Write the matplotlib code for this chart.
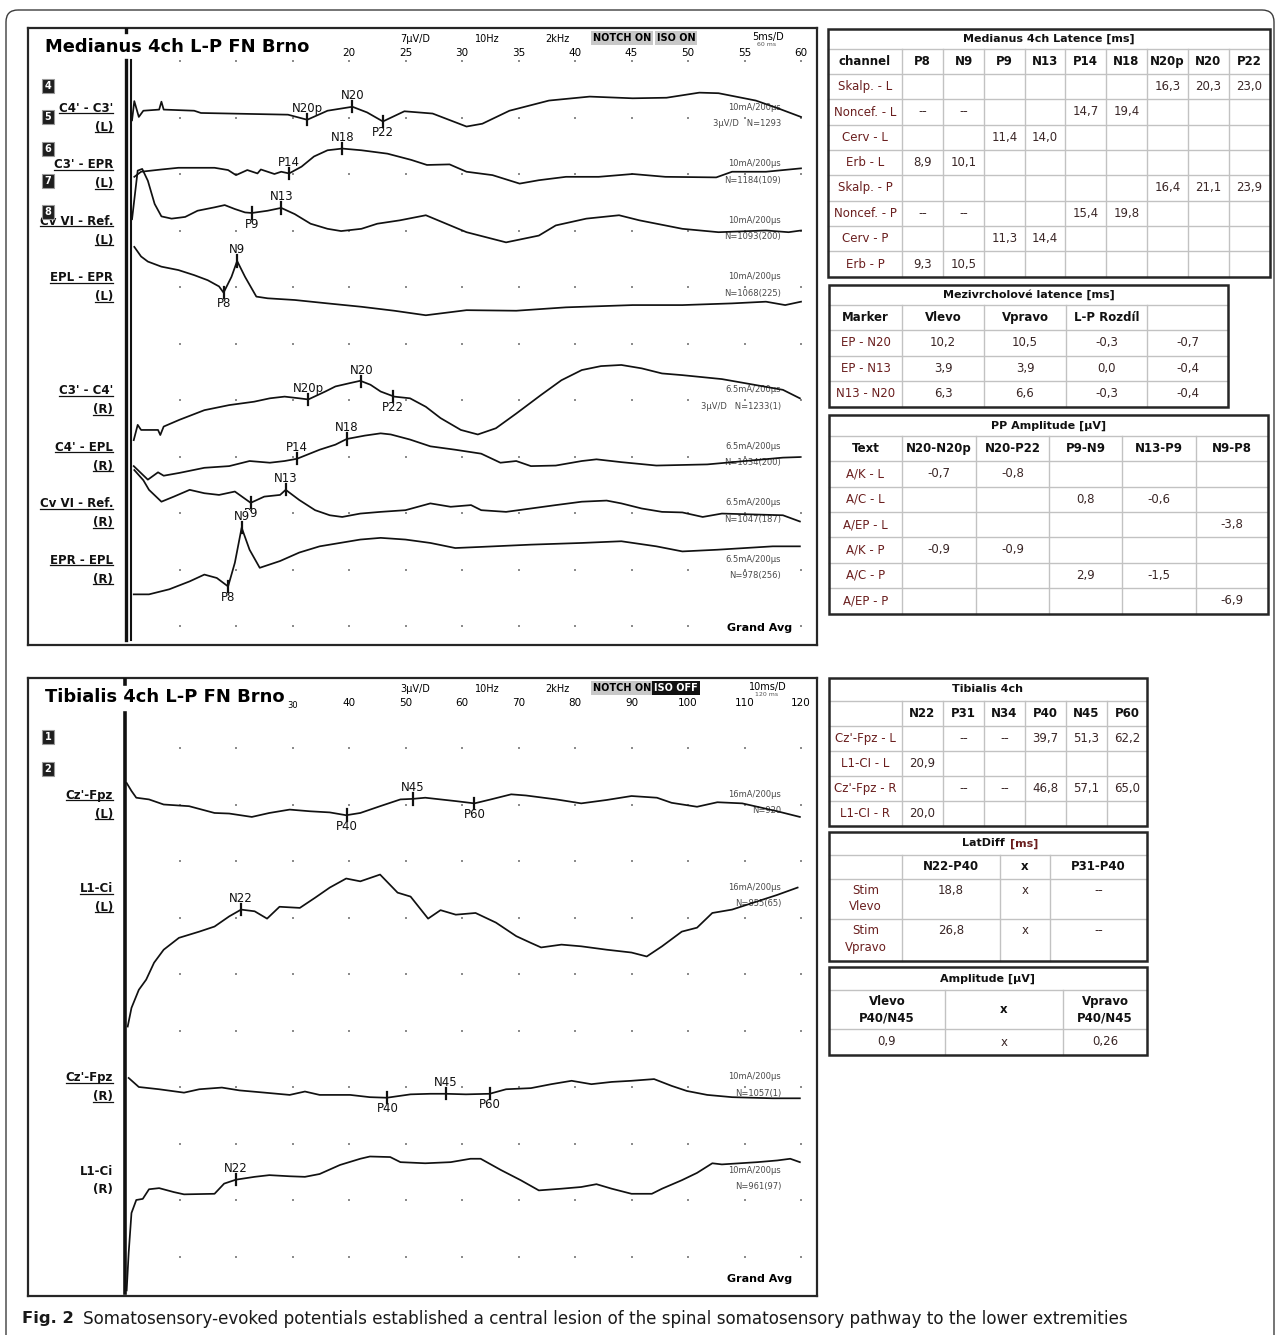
import numpy as np
import matplotlib.pyplot as plt
from matplotlib import font_manager
from matplotlib.lines import Line2D
from matplotlib.patches import Rectangle, FancyBboxPatch
from matplotlib.transforms import IdentityTransform

# ---------------------------------------------------------------- fonts
_installed = {f.name for f in font_manager.fontManager.ttflist}
HAS_NARROW = 'Liberation Sans Narrow' in _installed
NARROW = 'Liberation Sans Narrow' if HAS_NARROW else 'DejaVu Sans'
plt.rcParams['font.family'] = ['DejaVu Sans']
TITLE_FS = 15.3 if HAS_NARROW else 12.9
ANN_FS = 7.5 if HAS_NARROW else 6.0
NUM_FS = 9 if HAS_NARROW else 7.5

# ---------------------------------------------------------------- data
# Median nerve SEP: time (ms) / deflection (grid divisions, up = +)
skalp_L_t = [0.8, 1.0, 1.4, 1.8, 3.2, 3.4, 3.6, 6.3, 6.9, 14.6, 16.3, 18.1, 20.3, 21.6, 23.0,
             24.9, 27.4, 30.4, 31.8, 34.2, 37.7, 41.3, 45.1, 48.1, 51.0, 52.7, 56.0, 58.0, 60.0]
skalp_L_v = [-0.05, 0.29, 0.01, 0.12, 0.14, 0.28, 0.14, 0.12, 0.08, 0.05, -0.04, 0.12, 0.19, 0.09, -0.07,
             0.11, 0.07, -0.16, -0.11, 0.12, 0.30, 0.37, 0.34, 0.35, 0.44, 0.43, 0.30, 0.16, 0.01]

noncef_L_t = [1.0, 1.6, 3.4, 4.9, 8.1, 9.3, 10.0, 11.0, 11.9, 12.2, 13.4, 14.0, 14.7, 15.8, 16.9,
              18.1, 19.4, 21.1, 23.4, 25.5, 26.9, 28.9, 30.4, 32.7, 35.1, 36.8, 39.2, 42.1, 45.1,
              48.0, 52.5, 53.9, 56.9, 60.0]
noncef_L_v = [-0.05, 0.04, 0.08, 0.11, 0.11, 0.07, -0.02, 0.07, 0.01, 0.08, 0.00, 0.04, 0.01, 0.13, 0.31,
              0.42, 0.45, 0.42, 0.36, 0.25, 0.16, 0.17, 0.04, -0.02, -0.17, -0.11, -0.05, -0.05, 0.00,
              -0.05, -0.06, 0.04, 0.04, 0.10]

cerv_L_t = [0.8, 1.3, 1.7, 2.2, 2.8, 3.4, 4.3, 5.5, 6.6, 8.1, 9.0, 9.9, 10.8, 11.4, 12.8, 14.0, 15.2,
            16.6, 18.1, 19.3, 21.1, 22.5, 24.5, 26.8, 30.4, 33.9, 36.8, 38.3, 41.0, 43.9, 45.7, 49.5,
            52.7, 56.9, 58.9, 60.0]
cerv_L_v = [0.20, 1.06, 1.09, 0.88, 0.47, 0.25, 0.21, 0.24, 0.35, 0.41, 0.45, 0.38, 0.32, 0.31, 0.35,
            0.40, 0.29, 0.12, 0.03, -0.01, 0.03, 0.12, 0.18, 0.27, -0.03, -0.21, -0.09, 0.09, 0.21,
            0.27, 0.18, 0.03, -0.03, 0.00, -0.03, 0.00]

erb_L_t = [1.0, 1.6, 2.2, 3.4, 4.9, 6.3, 7.5, 8.5, 8.9, 9.6, 10.1, 10.8, 11.8, 12.8, 15.2, 18.1, 21.1,
           24.0, 26.8, 30.4, 34.8, 39.2, 45.1, 49.5, 53.9, 56.9, 58.6, 60.0]
erb_L_v = [0.71, 0.54, 0.45, 0.36, 0.30, 0.21, 0.12, 0.01, -0.10, 0.18, 0.46, 0.18, -0.17, -0.20, -0.23,
           -0.29, -0.35, -0.42, -0.50, -0.41, -0.42, -0.36, -0.32, -0.32, -0.29, -0.26, -0.32, -0.26]

skalp_P_t = [0.95, 1.3, 1.6, 3.1, 3.3, 3.6, 5.0, 7.2, 9.4, 11.6, 13.0, 14.3, 15.6, 16.4, 17.9, 18.8,
             20.1, 21.0, 21.9, 22.8, 24.0, 25.4, 26.8, 28.1, 29.9, 31.4, 33.0, 34.8, 37.0, 38.8, 40.6,
             42.3, 44.1, 45.9, 47.7, 49.5, 53.0, 58.4, 59.9]
skalp_P_v = [-0.71, -0.44, -0.53, -0.53, -0.62, -0.47, -0.35, -0.18, -0.09, -0.03, 0.03, 0.06, 0.03,
             0.01, 0.15, 0.24, 0.30, 0.34, 0.27, 0.15, 0.06, 0.03, -0.12, -0.32, -0.53, -0.61, -0.50,
             -0.24, 0.09, 0.35, 0.53, 0.60, 0.62, 0.56, 0.47, 0.44, 0.37, 0.18, 0.03]

noncef_P_t = [0.95, 2.2, 3.1, 3.6, 5.0, 7.2, 9.4, 11.2, 13.0, 14.3, 15.4, 17.4, 18.8, 19.8, 21.4, 22.8,
              23.7, 25.4, 27.2, 29.4, 31.7, 33.4, 34.8, 36.1, 38.3, 40.6, 41.9, 44.1, 47.2, 51.7, 58.4, 59.9]
noncef_P_v = [-0.17, -0.41, -0.28, -0.34, -0.29, -0.20, -0.17, -0.08, -0.11, -0.08, -0.04, 0.12, 0.21,
              0.31, 0.37, 0.41, 0.39, 0.30, 0.18, 0.12, 0.05, -0.11, -0.08, -0.17, -0.16, -0.08, -0.05,
              -0.10, -0.16, -0.14, -0.02, -0.01]

cerv_P_t = [1.0, 1.8, 2.3, 3.4, 4.5, 5.9, 7.2, 8.5, 9.9, 11.3, 12.5, 13.9, 14.4, 15.6, 17.0, 18.3, 19.4,
            21.0, 22.8, 25.0, 27.2, 29.0, 30.8, 31.7, 33.9, 36.1, 38.3, 40.6, 42.8, 44.1, 45.9, 47.7,
            49.5, 51.3, 53.0, 58.4, 59.9]
cerv_P_v = [0.76, 0.58, 0.41, 0.20, 0.29, 0.41, 0.35, 0.32, 0.38, 0.18, 0.29, 0.32, 0.41, 0.23, 0.05,
            -0.04, -0.07, -0.01, 0.02, 0.05, 0.17, 0.11, 0.14, 0.05, 0.02, 0.08, 0.14, 0.20, 0.22, 0.17,
            0.08, 0.02, 0.01, -0.07, -0.01, -0.04, -0.15]

erb_P_t = [0.95, 2.3, 4.1, 5.9, 7.2, 8.3, 9.3, 9.9, 10.5, 11.2, 12.1, 13.9, 15.6, 17.4, 19.2, 21.0, 22.8,
           25.0, 27.2, 29.4, 31.7, 36.1, 40.6, 44.1, 47.2, 49.5, 52.6, 57.5, 59.9]
erb_P_v = [-0.44, -0.44, -0.35, -0.21, -0.09, -0.15, -0.30, 0.12, 0.74, 0.35, 0.03, 0.15, 0.30, 0.41,
           0.47, 0.53, 0.56, 0.53, 0.47, 0.38, 0.40, 0.44, 0.47, 0.50, 0.41, 0.32, 0.35, 0.41, 0.41]

# Tibial nerve SEP
czfpz_L_t = [0.65, 1.5, 2.35, 4.6, 7.2, 11.7, 16.2, 18.8, 22.8, 25.9, 29.5, 33.1, 36.6, 39.5, 42.0, 45.5,
             49.1, 51.3, 53.5, 56.2, 58.9, 62.2, 65.1, 68.7, 71.3, 76.7, 81.1, 85.6, 90.0, 94.5, 97.1,
             101.6, 105.2, 109.6, 115.8, 119.8]
czfpz_L_v = [0.38, 0.24, 0.12, 0.09, 0.00, -0.03, -0.15, -0.16, -0.22, -0.15, -0.09, -0.12, -0.14, -0.19,
             -0.15, -0.03, 0.09, 0.10, 0.12, 0.09, 0.06, 0.02, 0.09, 0.18, 0.16, 0.09, 0.02, 0.08, 0.15,
             0.12, 0.03, -0.04, 0.04, 0.02, -0.12, -0.22]

l1ci_L_t = [0.83, 1.5, 2.8, 4.1, 5.5, 7.2, 9.9, 13.5, 16.2, 18.8, 20.9, 23.3, 25.5, 27.7, 31.3, 34.0,
            36.6, 39.5, 42.0, 45.5, 48.6, 50.9, 54.0, 56.2, 58.9, 62.4, 66.0, 69.6, 72.2, 74.0, 77.6,
            81.1, 85.6, 90.0, 92.7, 95.4, 98.9, 101.6, 104.3, 107.8, 115.8, 119.4]
l1ci_L_v = [-2.28, -1.95, -1.63, -1.45, -1.15, -0.92, -0.71, -0.60, -0.51, -0.33, -0.21, -0.24, -0.37,
            -0.16, -0.18, 0.00, 0.18, 0.34, 0.29, 0.41, 0.09, 0.02, -0.37, -0.22, -0.30, -0.27, -0.44,
            -0.68, -0.80, -0.88, -0.83, -0.86, -0.92, -0.97, -1.04, -0.86, -0.60, -0.53, -0.27, -0.21,
            0.05, 0.18]

czfpz_R_t = [1.0, 2.8, 6.4, 10.8, 13.5, 17.5, 20.6, 25.1, 29.5, 32.2, 34.8, 40.2, 43.7, 46.7, 50.9,
             54.4, 57.1, 60.7, 64.9, 67.8, 72.2, 75.8, 79.4, 82.9, 86.5, 90.0, 94.0, 97.1, 99.8, 103.4,
             107.8, 115.0, 119.8]
czfpz_R_v = [0.16, 0.00, -0.04, -0.10, -0.04, -0.01, -0.06, -0.10, -0.14, -0.08, -0.14, -0.14, -0.18,
             -0.19, -0.13, -0.12, -0.12, -0.13, -0.12, -0.04, -0.02, 0.05, 0.11, 0.05, 0.09, 0.11, 0.14,
             0.02, -0.07, -0.14, -0.18, -0.20, -0.20]

l1ci_R_t = [0.65, 1.0, 1.5, 2.35, 3.5, 4.6, 6.4, 9.0, 10.8, 16.2, 17.9, 20.0, 23.3, 25.9, 29.5, 32.2,
            34.8, 38.4, 42.0, 43.7, 47.3, 49.1, 53.5, 58.0, 61.5, 63.3, 66.9, 70.4, 73.6, 77.6, 81.1,
            83.8, 86.5, 90.0, 93.6, 95.4, 98.9, 101.6, 104.3, 106.0, 112.3, 115.8, 118.1, 119.8]
l1ci_R_v = [-1.95, -1.29, -0.58, -0.35, -0.33, -0.16, -0.14, -0.21, -0.25, -0.24, -0.06, 0.01, 0.06,
            0.09, 0.07, 0.06, 0.11, 0.27, 0.38, 0.42, 0.41, 0.32, 0.30, 0.32, 0.38, 0.38, 0.18, 0.00,
            -0.18, -0.15, -0.12, -0.07, -0.15, -0.24, -0.24, -0.15, 0.00, 0.13, 0.30, 0.28, 0.32, 0.35,
            0.38, 0.32]

# channel texts
med_names = ["C4' - C3'", "C3' - EPR", "Cv VI - Ref.", "EPL - EPR",
             "C3' - C4'", "C4' - EPL", "Cv VI - Ref.", "EPR - EPL"]
med_sides = ['(L)'] * 4 + ['(R)'] * 4
med_stim = ['10mA/200µs'] * 4 + ['6.5mA/200µs'] * 4
med_count = ['3µV/D   N=1293', 'N=1184(109)', 'N=1093(200)', 'N=1068(225)',
             '3µV/D   N=1233(1)', 'N=1034(200)', 'N=1047(187)', 'N=978(256)']
tib_names = ["Cz'-Fpz", "L1-Ci", "Cz'-Fpz", "L1-Ci"]
tib_sides = ['(L)', '(L)', '(R)', '(R)']
tib_stim = ['16mA/200µs', '16mA/200µs', '10mA/200µs', '10mA/200µs']
tib_count = ['N=920', 'N=855(65)', 'N=1057(1)', 'N=961(97)']

med_ticks = [20, 25, 30, 35, 40, 45, 50, 55, 60]
tib_ticks = [40, 50, 60, 70, 80, 90, 100, 110, 120]

# tables
lat_cols = ['channel', 'P8', 'N9', 'P9', 'N13', 'P14', 'N18', 'N20p', 'N20', 'P22']
lat_rows = ['Skalp. - L', 'Noncef. - L', 'Cerv - L', 'Erb - L',
            'Skalp. - P', 'Noncef. - P', 'Cerv - P', 'Erb - P']
lat_vals = [['', '', '', '', '', '', '16,3', '20,3', '23,0'],
            ['--', '--', '', '', '14,7', '19,4', '', '', ''],
            ['', '', '11,4', '14,0', '', '', '', '', ''],
            ['8,9', '10,1', '', '', '', '', '', '', ''],
            ['', '', '', '', '', '', '16,4', '21,1', '23,9'],
            ['--', '--', '', '', '15,4', '19,8', '', '', ''],
            ['', '', '11,3', '14,4', '', '', '', '', ''],
            ['9,3', '10,5', '', '', '', '', '', '', '']]

mez_cols = ['Marker', 'Vlevo', 'Vpravo', 'L-P Rozdíl', '']
mez_rows = ['EP - N20', 'EP - N13', 'N13 - N20']
mez_vals = [['10,2', '10,5', '-0,3', '-0,7'],
            ['3,9', '3,9', '0,0', '-0,4'],
            ['6,3', '6,6', '-0,3', '-0,4']]

pp_cols = ['Text', 'N20-N20p', 'N20-P22', 'P9-N9', 'N13-P9', 'N9-P8']
pp_rows = ['A/K - L', 'A/C - L', 'A/EP - L', 'A/K - P', 'A/C - P', 'A/EP - P']
pp_vals = [['-0,7', '-0,8', '', '', ''],
           ['', '', '0,8', '-0,6', ''],
           ['', '', '', '', '-3,8'],
           ['-0,9', '-0,9', '', '', ''],
           ['', '', '2,9', '-1,5', ''],
           ['', '', '', '', '-6,9']]

tib_cols = ['', 'N22', 'P31', 'N34', 'P40', 'N45', 'P60']
tib_rows = ["Cz'-Fpz - L", 'L1-CI - L', "Cz'-Fpz - R", 'L1-CI - R']
tib_vals = [['', '--', '--', '39,7', '51,3', '62,2'],
            ['20,9', '', '', '', '', ''],
            ['', '--', '--', '46,8', '57,1', '65,0'],
            ['20,0', '', '', '', '', '']]

ld_cols = ['', 'N22-P40', 'x', 'P31-P40']
ld_rows = ['Stim\nVlevo', 'Stim\nVpravo']
ld_vals = [['18,8', 'x', '--'], ['26,8', 'x', '--']]

amp_cols = ['Vlevo\nP40/N45', 'x', 'Vpravo\nP40/N45']
amp_vals = ['0,9', 'x', '0,26']

caption = ('Somatosensory-evoked potentials established a central lesion of the spinal '
           'somatosensory pathway to the lower extremities')

# ---------------------------------------------------------------- layout
W, H = 1280, 1335
DIV = 56.5            # px per grid division
X0 = 123              # stimulus onset, px
PL, PR = 28, 817      # panel left / right, px
INK = '#111111'

fig = plt.figure(figsize=(W / 100, H / 100), dpi=100)
bg = fig.add_axes([0, 0, 1, 1])
bg.set_xlim(0, W); bg.set_ylim(H, 0); bg.axis('off')
bg.add_patch(FancyBboxPatch((6, 10), W - 12, H + 40,
                            boxstyle='round,pad=0,rounding_size=12',
                            ec='#3c3c3c', fc='none', lw=1.0))

underlined = []
bottom_of = {}


def make_panel(top, bottom, row0, ms_div):
    ax = fig.add_axes([PL / W, 1 - bottom / H, (PR - PL) / W, (bottom - top) / H])
    ax.set_xlim((PL - X0) / DIV * ms_div, (PR - X0) / DIV * ms_div)
    ax.set_ylim((bottom - row0) / DIV, (top - row0) / DIV)
    ax.set_xticks([]); ax.set_yticks([])
    ax.set_facecolor('none')
    for s in ax.spines.values():
        s.set_color('#262626'); s.set_linewidth(1.6)
    fx = lambda px: (px - PL) / (PR - PL)
    fy = lambda py: (bottom - py) / (bottom - top)
    bottom_of[ax] = bottom
    return ax, fx, fy


def header(ax, fx, fy, top, title, gain, iso_txt, iso_dark, sweep, sweep_sub, ticks):
    ta = ax.transAxes
    ax.text(fx(45), fy(top + 18.5), title, transform=ta, ha='left', va='center',
            fontsize=TITLE_FS, fontweight='bold', family=NARROW, zorder=6)
    for txt, px in zip([gain, '10Hz', '2kHz'], [415, 487, 557]):
        ax.text(fx(px), fy(top + 11), txt, transform=ta, ha='center', va='center',
                fontsize=7, family=NARROW)
    ax.text(fx(622), fy(top + 10), 'NOTCH ON', transform=ta, ha='center', va='center',
            fontsize=7, fontweight='bold', family=NARROW,
            bbox=dict(boxstyle='square,pad=0.18', fc='#c8c8c8', ec='none'))
    ax.text(fx(676), fy(top + 10), iso_txt, transform=ta, ha='center', va='center',
            fontsize=7, fontweight='bold', family=NARROW,
            color='white' if iso_dark else 'black',
            bbox=dict(boxstyle='square,pad=0.18', fc='#111111' if iso_dark else '#c8c8c8', ec='none'))
    ax.text(fx(768), fy(top + 9), sweep, transform=ta, ha='center', va='center',
            fontsize=7, family=NARROW)
    ax.text(fx(767), fy(top + 16.5), sweep_sub, transform=ta, ha='center', va='center',
            fontsize=4.5, family=NARROW, color='#555555')
    xt = ax.get_xaxis_transform()
    for v in ticks:
        ax.text(v, fy(top + 25), str(v), transform=xt, ha='center', va='center',
                fontsize=NUM_FS, family=NARROW)
    ax.text(fx(792), fy(bottom_of[ax] - 17), 'Grand Avg', transform=ta, ha='right',
            va='center', fontsize=8, fontweight='bold')


def num_boxes(ax, fx, fy, digits, ys):
    for d, py in zip(digits, ys):
        ax.text(fx(48), fy(py), d, transform=ax.transAxes, ha='center', va='center',
                fontsize=7, fontweight='bold', color='white', zorder=7,
                bbox=dict(boxstyle='square,pad=0.22', fc='#1e1e1e', ec='#9a9a9a', lw=0.8))


def grid_dots(ax, xs, rows):
    X, Y = np.meshgrid(xs, rows)
    ax.scatter(X.ravel(), Y.ravel(), s=2.2, marker='s', color='#8c8c8c', lw=0, zorder=1)


def channel_text(ax, fx, bases, names, sides, stims, counts, ul_flags):
    yt = ax.get_yaxis_transform()
    for b, nm, sd, st, ct, ul in zip(bases, names, sides, stims, counts, ul_flags):
        a = ax.text(fx(113), b - 0.16, nm, transform=yt, ha='right', va='center',
                    fontsize=8.5, fontweight='bold', color=INK)
        c = ax.text(fx(113), b + 0.17, sd, transform=yt, ha='right', va='center',
                    fontsize=8.5, fontweight='bold', color=INK)
        if ul:
            underlined.extend([a, c])
        ax.text(fx(781), b - 0.18, st, transform=yt, ha='right', va='center',
                fontsize=ANN_FS, family=NARROW, color='#4a4a4a', zorder=2)
        ax.text(fx(781), b + 0.11, ct, transform=yt, ha='right', va='center',
                fontsize=ANN_FS, family=NARROW, color='#4a4a4a', zorder=2)


def marks_from(vals, cols):
    out = []
    for c, s in zip(cols, vals):
        if s and s != '--':
            out.append((c, float(s.replace(',', '.'))))
    return out


def draw_trace(ax, t, v, base, marks):
    t = np.asarray(t); v = np.asarray(v)
    ax.plot(t, base - v, color=INK, lw=1.25, solid_joinstyle='round', zorder=3)
    for name, lat in marks:
        ym = base - np.interp(lat, t, v)
        ax.plot([lat, lat], [ym - 0.1, ym + 0.1], color=INK, lw=1.6, zorder=4)
        up = name.startswith('N') or name == 'P14'
        ax.text(lat, ym - 0.08 if up else ym + 0.08, name, ha='center',
                va='bottom' if up else 'top', fontsize=8.5, color=INK, zorder=2,
                bbox=dict(boxstyle='square,pad=0.02', fc='white', ec='none'))


# ---------------------------------------------------------------- medianus panel
ax1, fx1, fy1 = make_panel(28, 645, 61, 5)
grid_dots(ax1, np.arange(5, 61, 5), np.arange(0, 11))
header(ax1, fx1, fy1, 28, 'Medianus 4ch L-P FN Brno', '7µV/D', 'ISO ON', False,
       '5ms/D', '60 ms', med_ticks)
num_boxes(ax1, fx1, fy1, ['4', '5', '6', '7', '8'], [86, 117, 149, 181, 212])
med_bases = [1, 2, 3, 4, 6, 7, 8, 9]
channel_text(ax1, fx1, med_bases, med_names, med_sides, med_stim, med_count, [True] * 8)
med_traces = [(skalp_L_t, skalp_L_v), (noncef_L_t, noncef_L_v), (cerv_L_t, cerv_L_v),
              (erb_L_t, erb_L_v), (skalp_P_t, skalp_P_v), (noncef_P_t, noncef_P_v),
              (cerv_P_t, cerv_P_v), (erb_P_t, erb_P_v)]
for (t, v), b, row in zip(med_traces, med_bases, lat_vals):
    draw_trace(ax1, t, v, b, marks_from(row, lat_cols[1:]))
# stimulus artefact
ax1.plot([0.25, 0.25], [-0.02, 10.25], color=INK, lw=2.4, zorder=3.5)
ax1.plot([0.72, 0.72], [-0.02, 10.25], color=INK, lw=1.5, zorder=3.5)
ax1.plot([0.25, 0.25], [-0.584, -0.52], color=INK, lw=2.4, zorder=3.5)

# ---------------------------------------------------------------- tibialis panel
ax2, fx2, fy2 = make_panel(678, 1296, 691.5, 10)
grid_dots(ax2, np.arange(10, 121, 10), np.arange(1, 11))
header(ax2, fx2, fy2, 678, 'Tibialis 4ch L-P FN Brno', '3µV/D', 'ISO OFF', True,
       '10ms/D', '120 ms', tib_ticks)
ax2.text(30, fy2(705), '30', transform=ax2.get_xaxis_transform(), ha='center', va='center',
         fontsize=6, family=NARROW)
num_boxes(ax2, fx2, fy2, ['1', '2'], [737, 769])
tib_bases = [2.0, 3.65, 7.0, 8.65]
channel_text(ax2, fx2, tib_bases, tib_names, tib_sides, tib_stim, tib_count,
             [True, True, True, False])
tib_traces = [(czfpz_L_t, czfpz_L_v), (l1ci_L_t, l1ci_L_v), (czfpz_R_t, czfpz_R_v),
              (l1ci_R_t, l1ci_R_v)]
for (t, v), b, row in zip(tib_traces, tib_bases, tib_vals):
    draw_trace(ax2, t, v, b, marks_from(row, tib_cols[1:]))
ax2.plot([0.35, 0.35], [0.38, 10.65], color=INK, lw=2.6, zorder=3.5)
ax2.plot([0.35, 0.35], [-0.239, -0.13], color=INK, lw=2.6, zorder=3.5)

# ---------------------------------------------------------------- tables
GRID = '#c2c2c2'
LBL = '#6a1e1e'
VAL = '#3a2626'


def table(xs, ys, title, head, body, first_label=True, body_top=False, head_ls=1.2):
    x0, x1, y0, y1 = xs[0], xs[-1], ys[0], ys[-1]
    for y in ys[1:-1]:
        bg.plot([x0, x1], [y, y], color=GRID, lw=1.0, zorder=2)
    for x in xs[1:-1]:
        bg.plot([x, x], [ys[1], y1], color=GRID, lw=1.0, zorder=2)
    bg.add_patch(Rectangle((x0, y0), x1 - x0, y1 - y0, fill=False, ec='#262626', lw=1.8, zorder=3))
    if title:
        bg.text((x0 + x1) / 2, (ys[0] + ys[1]) / 2, title, ha='center', va='center',
                fontsize=8, fontweight='bold', color=INK)
    for j, h in enumerate(head):
        bg.text((xs[j] + xs[j + 1]) / 2, (ys[1] + ys[2]) / 2, h, ha='center', va='center',
                fontsize=8.5, fontweight='bold', color=INK, linespacing=head_ls)
    for i, row in enumerate(body):
        ya, yb = ys[i + 2], ys[i + 3]
        for j, s in enumerate(row):
            if not s:
                continue
            col = LBL if (first_label and j == 0) else VAL
            cx = (xs[j] + xs[j + 1]) / 2
            if body_top:
                bg.text(cx, ya + 5, s, ha='center', va='top', fontsize=8.5, color=col,
                        linespacing=1.35)
            else:
                bg.text(cx, (ya + yb) / 2, s, ha='center', va='center', fontsize=8.5, color=col)


table([828, 902, 943, 984, 1025, 1065, 1106, 1147, 1188, 1229, 1270],
      [29, 49, 74, 99.3, 124.7, 150, 175.3, 200.7, 226, 251.3, 277],
      'Medianus 4ch Latence [ms]', lat_cols,
      [[r] + v for r, v in zip(lat_rows, lat_vals)])
table([829, 902, 984, 1066, 1147, 1228], [285, 305, 330, 355.5, 381, 406.5],
      'Mezivrcholové latence [ms]', mez_cols,
      [[r] + v for r, v in zip(mez_rows, mez_vals)])
table([829, 902, 976, 1049, 1122, 1196, 1268],
      [415, 436, 461.3, 486.7, 512, 537.3, 562.7, 588, 613.5],
      'PP Amplitude [µV]', pp_cols,
      [[r] + v for r, v in zip(pp_rows, pp_vals)])
table([829, 902, 943, 984, 1025, 1066, 1107, 1147], [678, 701, 726, 751, 776, 801, 826],
      'Tibialis 4ch', tib_cols,
      [[r] + v for r, v in zip(tib_rows, tib_vals)])
table([829, 902, 1000, 1050, 1147], [832, 855, 879, 919, 961],
      None, ld_cols, [[r] + v for r, v in zip(ld_rows, ld_vals)], body_top=True)
bg.text(1005, 843.5, 'LatDiff', ha='right', va='center', fontsize=8, fontweight='bold', color=INK)
bg.text(1010, 843.5, '[ms]', ha='left', va='center', fontsize=8, fontweight='bold', color=LBL)
table([829, 945, 1063, 1147], [967, 990, 1029, 1055],
      'Amplitude [µV]', amp_cols, [amp_vals], first_label=False, head_ls=1.35)

# ---------------------------------------------------------------- caption
bg.text(22, 1319, 'Fig. 2', ha='left', va='center', fontsize=11.8, fontweight='bold', color='#1a1a1a')
bg.text(83, 1319, caption, ha='left', va='center', fontsize=12.1, color='#1a1a1a')

# underline channel labels
fig.canvas.draw()
rend = fig.canvas.get_renderer()
for txt in underlined:
    bb = txt.get_window_extent(rend)
    yl = bb.y0 + 1.5
    fig.add_artist(Line2D([bb.x0, bb.x1], [yl, yl], transform=IdentityTransform(),
                          color=INK, lw=0.9))

fig.savefig('out.png', dpi=100)
